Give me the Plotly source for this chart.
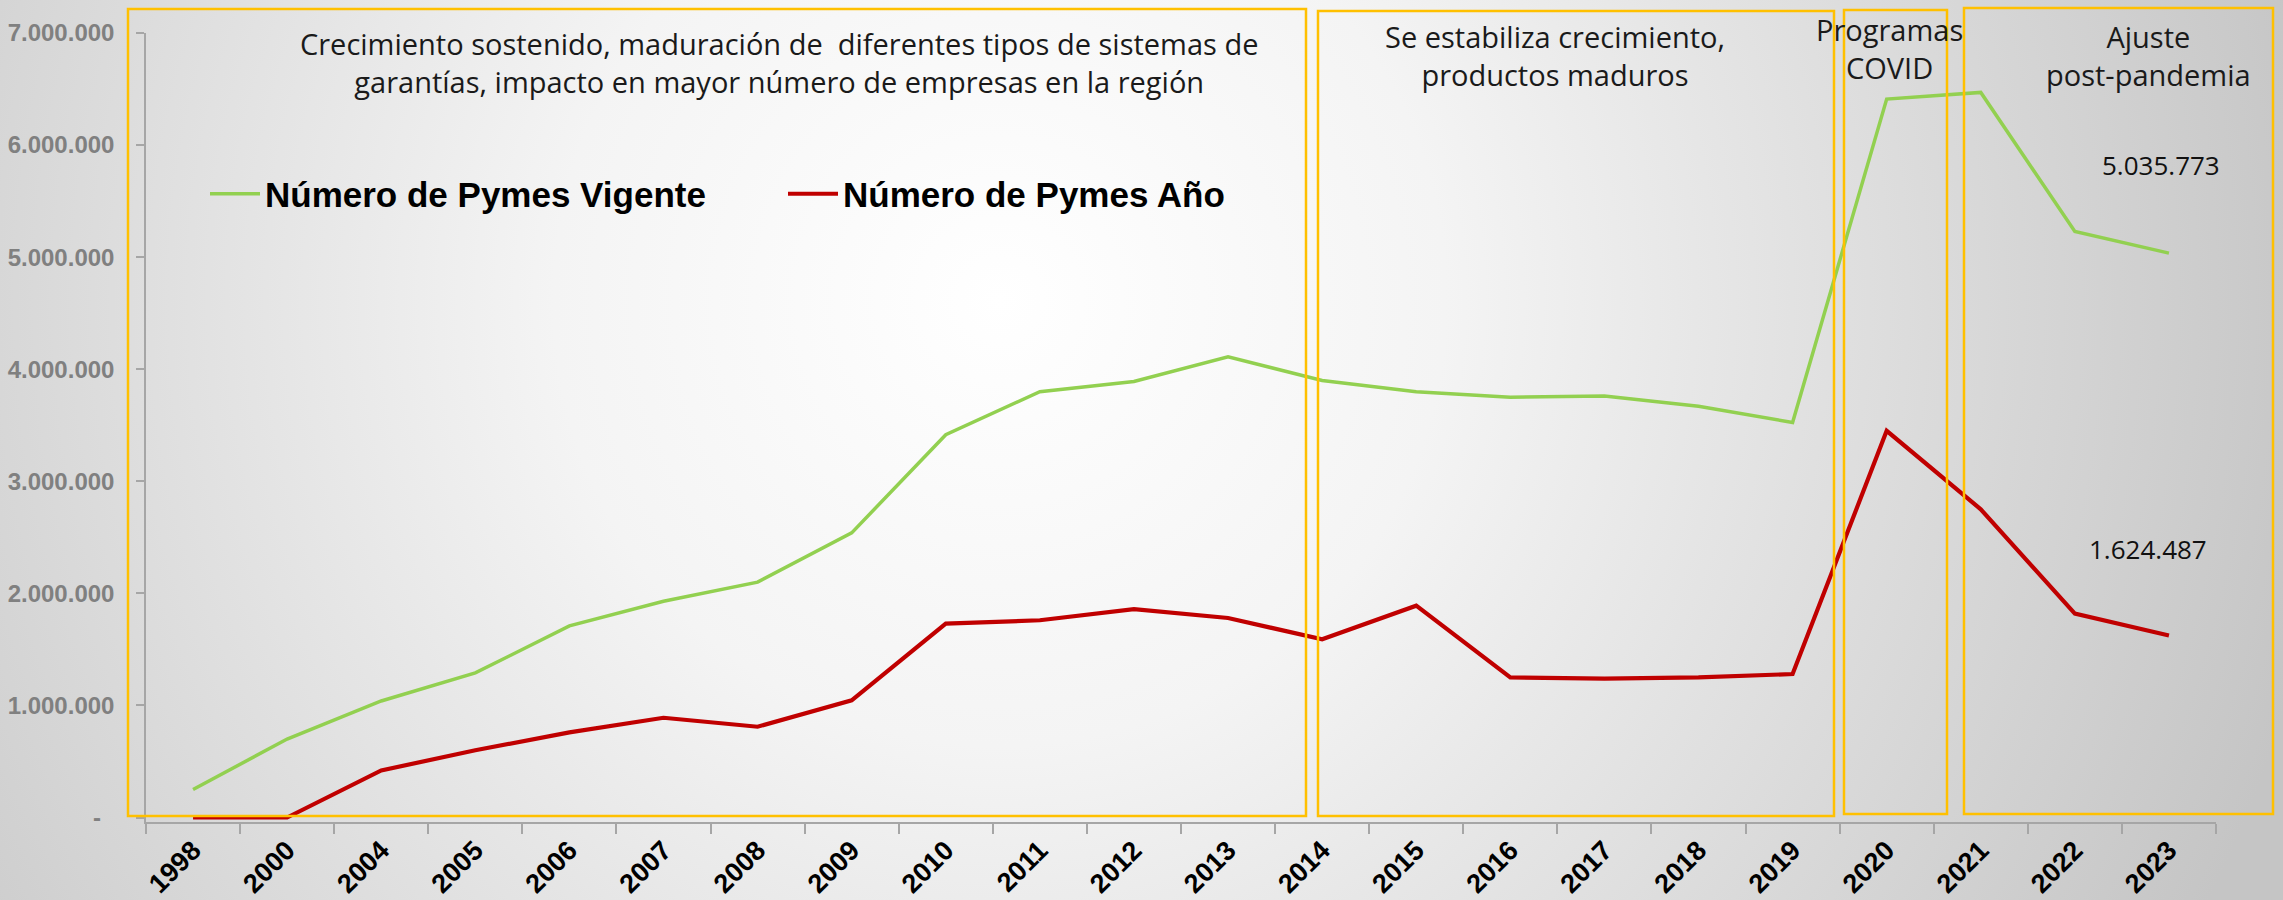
import base64
import plotly.graph_objects as go

# ---------------- data ----------------
years = ["1998", "2000", "2004", "2005", "2006", "2007", "2008", "2009", "2010", "2011",
         "2012", "2013", "2014", "2015", "2016", "2017", "2018", "2019", "2020", "2021",
         "2022", "2023"]
pymes_vigente = [250000, 700000, 1040000, 1290000, 1710000, 1930000, 2100000, 2540000,
                 3415000, 3800000, 3890000, 4110000, 3900000, 3800000, 3750000, 3760000,
                 3670000, 3525000, 6410000, 6470000, 5230000, 5035773]
pymes_anio = [0, 0, 420000, 600000, 760000, 890000, 810000, 1046000,
              1730000, 1760000, 1860000, 1780000, 1590000, 1890000, 1250000, 1240000,
              1250000, 1280000, 3450000, 2750000, 1820000, 1624487]
y_ticks = [0, 1000000, 2000000, 3000000, 4000000, 5000000, 6000000, 7000000]
y_ticktext = ["-\u00a0\u00a0", "1.000.000", "2.000.000", "3.000.000", "4.000.000",
              "5.000.000", "6.000.000", "7.000.000"]
series_names = ["Número de Pymes Vigente", "Número de Pymes Año"]
phase_texts = [
    "Crecimiento sostenido, maduración de  diferentes tipos de sistemas de<br>garantías, impacto en mayor número de empresas en la región",
    "Se estabiliza crecimiento,<br>productos maduros",
    "Programas<br>COVID",
    "Ajuste<br>post-pandemia",
]

# ---------------- layout constants ----------------
W, H = 2283, 900
ML, MR, MT, MB = 146, 67, 33, 78
PW, PH = W - ML - MR, H - MT - MB

BOLD = "Liberation Sans, Arial, sans-serif"
TXT = "Open Sans, Montserrat, Lato, sans-serif"
GREEN = "#92D050"
RED = "#C00000"
GOLD = "#FFC000"


def px_x(p):
    return (p - ML) / PW


def px_y(p):
    return (H - MB - p) / PH


fmt = lambda v: f"{v:,}".replace(",", ".")

fig = go.Figure()
fig.add_trace(go.Scatter(x=years, y=pymes_vigente, mode="lines", name=series_names[0],
                         line=dict(color=GREEN, width=3.5), cliponaxis=False))
fig.add_trace(go.Scatter(x=years, y=pymes_anio, mode="lines", name=series_names[1],
                         line=dict(color=RED, width=4.2), cliponaxis=False))

# background radial gradient
svg = (f"<svg xmlns='http://www.w3.org/2000/svg' width='{W}' height='{H}' viewBox='0 0 {W} {H}' "
       "preserveAspectRatio='none'><defs><radialGradient id='g' gradientUnits='userSpaceOnUse' "
       "cx='1000' cy='300' r='1350'><stop offset='0' stop-color='#ffffff'/>"
       "<stop offset='0.33' stop-color='#f4f4f4'/><stop offset='1' stop-color='#c5c5c5'/>"
       "</radialGradient></defs><rect width='100%' height='100%' fill='url(#g)'/></svg>")
src = "data:image/svg+xml;base64," + base64.b64encode(svg.encode()).decode()
fig.add_layout_image(dict(source=src, xref="paper", yref="paper", x=-ML / PW, y=1 + MT / PH,
                          sizex=W / PW, sizey=H / PH, sizing="stretch", layer="below",
                          xanchor="left", yanchor="top"))

# phase boxes (pixel geometry)
boxes = [(128, 9, 1306, 816), (1318, 11, 1834, 816), (1844, 10, 1947, 814), (1964, 8, 2273, 814)]
for (x0, y0, x1, y1) in boxes:
    fig.add_shape(type="rect", xref="paper", yref="paper", x0=px_x(x0), x1=px_x(x1),
                  y0=px_y(y1), y1=px_y(y0), line=dict(color=GOLD, width=2.5),
                  fillcolor="rgba(0,0,0,0)", layer="above")

text_pos = [(779, 62), (1555, 56), (1889, 49), (2148, 56)]
for t, (cx, cy) in zip(phase_texts, text_pos):
    fig.add_annotation(text=t, xref="paper", yref="paper", x=px_x(cx), y=px_y(cy),
                       xanchor="center", yanchor="middle", showarrow=False, align="center",
                       font=dict(family=TXT, size=29, color="#1a1a1a"))

# last-value labels
last = len(years) - 1
fig.add_annotation(x=last, y=pymes_vigente[last], text=fmt(pymes_vigente[last]), showarrow=False,
                   xshift=-8, yshift=88, font=dict(family=TXT, size=26, color="#111111"))
fig.add_annotation(x=last, y=pymes_anio[last], text=fmt(pymes_anio[last]), showarrow=False,
                   xshift=-21, yshift=86, font=dict(family=TXT, size=26, color="#111111"))

fig.update_layout(
    width=W, height=H, margin=dict(l=ML, r=MR, t=MT, b=MB, pad=0, autoexpand=False),
    paper_bgcolor="#d9d9d9", plot_bgcolor="rgba(0,0,0,0)",
    showlegend=True,
    legend=dict(orientation="h", x=px_x(205), y=px_y(194), xanchor="left", yanchor="middle",
                font=dict(family=BOLD, size=35, color="black", weight="bold"),
                itemwidth=50,
                bgcolor="rgba(0,0,0,0)", entrywidth=513, entrywidthmode="pixels"),
    xaxis=dict(type="category", categoryorder="array", categoryarray=years,
               range=[-0.5, len(years) - 0.5], showgrid=False, zeroline=False, automargin=False,
               showline=True, linecolor="#a6a6a6", linewidth=1.5,
               ticks="outside", tickson="boundaries", ticklen=10, tickcolor="#a6a6a6", tickwidth=1.5,
               tickangle=-45, layer="below traces", ticklabelstandoff=0,
               tickfont=dict(family=BOLD, size=27, color="black", weight="bold")),
    yaxis=dict(range=[-40000, 7000000], tickvals=y_ticks, ticktext=y_ticktext, automargin=False,
               showgrid=False, zeroline=False, showline=True, linecolor="#a6a6a6", linewidth=1.5,
               ticks="outside", ticklen=8, tickcolor="#a6a6a6", tickwidth=1.5,
               ticklabelstandoff=17, layer="below traces",
               tickfont=dict(family=BOLD, size=24, color="#808080", weight="bold")),
)

fig.write_html("out.html", config={"displayModeBar": False},
               post_script="document.body.style.margin='0px';document.body.style.overflow='hidden';")
